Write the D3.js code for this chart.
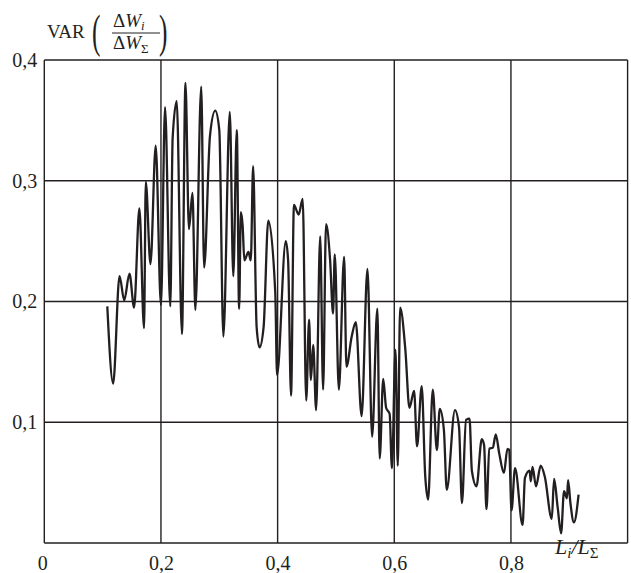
<!DOCTYPE html>
<html>
<head>
<meta charset="utf-8">
<script src="https://cdn.jsdelivr.net/npm/d3@7"></script>
<style>
  body { margin: 0; background: #fff; }
  svg text { font-family: "Liberation Serif", "Times New Roman", serif; fill: #231f20; }
</style>
</head>
<body>
<div id="vis"></div>
<script>
// share of length (x) and variance values (y)
var xVals = [0.108, 0.118, 0.129, 0.137, 0.146, 0.154, 0.163, 0.171, 0.174, 0.182,
  0.191, 0.200, 0.207, 0.216, 0.220, 0.227, 0.236, 0.242, 0.248, 0.254,
  0.259, 0.269, 0.274, 0.284, 0.293, 0.300, 0.307, 0.318, 0.324, 0.330,
  0.334, 0.337, 0.340, 0.343, 0.350, 0.354, 0.358, 0.364, 0.369, 0.376,
  0.384, 0.396, 0.399, 0.414, 0.418, 0.423, 0.428, 0.436, 0.443, 0.449,
  0.454, 0.457, 0.461, 0.466, 0.473, 0.478, 0.483, 0.490, 0.495, 0.498,
  0.505, 0.514, 0.518, 0.527, 0.534, 0.544, 0.554, 0.562, 0.571, 0.575,
  0.581, 0.586, 0.592, 0.596, 0.602, 0.606, 0.610, 0.619, 0.626, 0.634,
  0.639, 0.647, 0.653, 0.658, 0.666, 0.673, 0.678, 0.685, 0.690, 0.704,
  0.711, 0.716, 0.723, 0.729, 0.733, 0.741, 0.750, 0.754, 0.758, 0.763,
  0.769, 0.774, 0.780, 0.788, 0.794, 0.797, 0.801, 0.807, 0.820, 0.824,
  0.832, 0.834, 0.837, 0.843, 0.851, 0.858, 0.870, 0.874, 0.880, 0.886,
  0.891, 0.896, 0.898, 0.902, 0.908, 0.916];
var yVals = [0.196, 0.132, 0.221, 0.201, 0.223, 0.195, 0.277, 0.178, 0.299, 0.231,
  0.329, 0.197, 0.361, 0.196, 0.335, 0.366, 0.173, 0.381, 0.260, 0.290,
  0.193, 0.378, 0.228, 0.337, 0.358, 0.342, 0.171, 0.357, 0.221, 0.342,
  0.194, 0.274, 0.263, 0.234, 0.241, 0.234, 0.312, 0.179, 0.162, 0.179,
  0.267, 0.207, 0.139, 0.250, 0.234, 0.122, 0.280, 0.272, 0.285, 0.118,
  0.185, 0.135, 0.164, 0.110, 0.254, 0.127, 0.264, 0.234, 0.190, 0.239,
  0.127, 0.237, 0.146, 0.171, 0.183, 0.105, 0.227, 0.088, 0.194, 0.070,
  0.136, 0.112, 0.107, 0.062, 0.160, 0.064, 0.195, 0.160, 0.112, 0.126,
  0.080, 0.130, 0.056, 0.036, 0.127, 0.077, 0.111, 0.094, 0.044, 0.110,
  0.096, 0.033, 0.102, 0.103, 0.060, 0.047, 0.086, 0.081, 0.028, 0.078,
  0.079, 0.090, 0.074, 0.058, 0.078, 0.077, 0.027, 0.062, 0.015, 0.054,
  0.060, 0.051, 0.063, 0.047, 0.064, 0.055, 0.020, 0.053, 0.030, 0.008,
  0.043, 0.037, 0.052, 0.033, 0.017, 0.040];

var xTicks = [0, 0.2, 0.4, 0.6, 0.8];
var yTicks = [0.1, 0.2, 0.3, 0.4];

var width = 631;
var height = 573;
var margin = { top: 60, left: 44.3, bottom: 30, right: 4 };
var ink = '#231f20';
var serif = '"Liberation Serif", "Times New Roman", serif';

var svg = d3.select('#vis').append('svg')
  .attr('width', width)
  .attr('height', height);

var x = d3.scaleLinear().domain([0, 1]).range([margin.left, 627.6]);
var y = d3.scaleLinear().domain([0, 0.4]).range([543, margin.top]);

var fmt = function (d) { return d === 0 ? '0' : d3.format('.1f')(d).replace('.', ','); };

// grid + frame
var g = svg.append('g');
g.selectAll('.vgrid')
  .data(xTicks.concat([1]))
  .enter().append('line')
  .attr('x1', function (d) { return x(d); })
  .attr('x2', function (d) { return x(d); })
  .attr('y1', y(0))
  .attr('y2', y(0.4))
  .attr('stroke', ink)
  .attr('stroke-width', 1.4);
g.selectAll('.hgrid')
  .data([0].concat(yTicks))
  .enter().append('line')
  .attr('x1', x(0))
  .attr('x2', x(1))
  .attr('y1', function (d) { return y(d); })
  .attr('y2', function (d) { return y(d); })
  .attr('stroke', ink)
  .attr('stroke-width', 1.4);

// x axis labels
var xAxis = d3.axisBottom(x).tickValues(xTicks).tickSize(0).tickPadding(13).tickFormat(fmt);
svg.append('g')
  .attr('transform', 'translate(0,' + y(0) + ')')
  .call(xAxis)
  .attr('font-family', serif)
  .attr('font-size', 20)
  .call(function (a) { a.select('.domain').remove(); })
  .selectAll('text')
  .attr('x', function (d) { return d === 0 ? -2 : 0; })
  .attr('fill', ink);

// y axis labels
var yAxis = d3.axisLeft(y).tickValues(yTicks).tickSize(0).tickPadding(7).tickFormat(fmt);
svg.append('g')
  .attr('transform', 'translate(' + x(0) + ',0)')
  .call(yAxis)
  .attr('font-family', serif)
  .attr('font-size', 20)
  .call(function (a) { a.select('.domain').remove(); })
  .selectAll('text')
  .attr('fill', ink);

// the series
var pts = xVals.map(function (d, i) { return [d, yVals[i]]; });
var line = d3.line()
  .x(function (d) { return x(d[0]); })
  .y(function (d) { return y(d[1]); })
  .curve(d3.curveMonotoneX);
svg.append('path')
  .datum(pts)
  .attr('d', line)
  .attr('fill', 'none')
  .attr('stroke', ink)
  .attr('stroke-width', 2.3)
  .attr('stroke-linejoin', 'round');

// x axis title
var xt = svg.append('text')
  .attr('x', 555)
  .attr('y', 554)
  .attr('font-size', 22)
  .attr('font-style', 'italic');
xt.append('tspan').text('L');
xt.append('tspan').attr('dy', 4).attr('font-size', 15).text('i');
xt.append('tspan').attr('dy', -4).text('/L');
xt.append('tspan').attr('dy', 4).attr('font-size', 15).attr('font-style', 'normal').text('Σ');

// y axis title: VAR( dWi / dWsum )
var yt = svg.append('g');
yt.append('text').attr('x', 47).attr('y', 38).attr('font-size', 19).text('VAR');
yt.append('text').attr('x', 92).attr('y', 47).attr('font-size', 46)
  .attr('transform', 'translate(92,47) scale(0.55,1) translate(-92,-47)').text('(');
yt.append('text').attr('x', 159).attr('y', 47).attr('font-size', 46)
  .attr('transform', 'translate(159,47) scale(0.55,1) translate(-159,-47)').text(')');
var num = yt.append('text').attr('x', 113).attr('y', 27).attr('font-size', 19);
num.append('tspan').text('Δ');
num.append('tspan').attr('font-style', 'italic').text('W');
num.append('tspan').attr('dy', 3).attr('font-size', 13).attr('font-style', 'italic').text('i');
yt.append('line')
  .attr('x1', 112).attr('x2', 160)
  .attr('y1', 33).attr('y2', 33)
  .attr('stroke', ink).attr('stroke-width', 1);
var den = yt.append('text').attr('x', 113).attr('y', 49).attr('font-size', 19);
den.append('tspan').text('Δ');
den.append('tspan').attr('font-style', 'italic').text('W');
den.append('tspan').attr('dy', 4).attr('font-size', 13).text('Σ');
</script>
</body>
</html>
